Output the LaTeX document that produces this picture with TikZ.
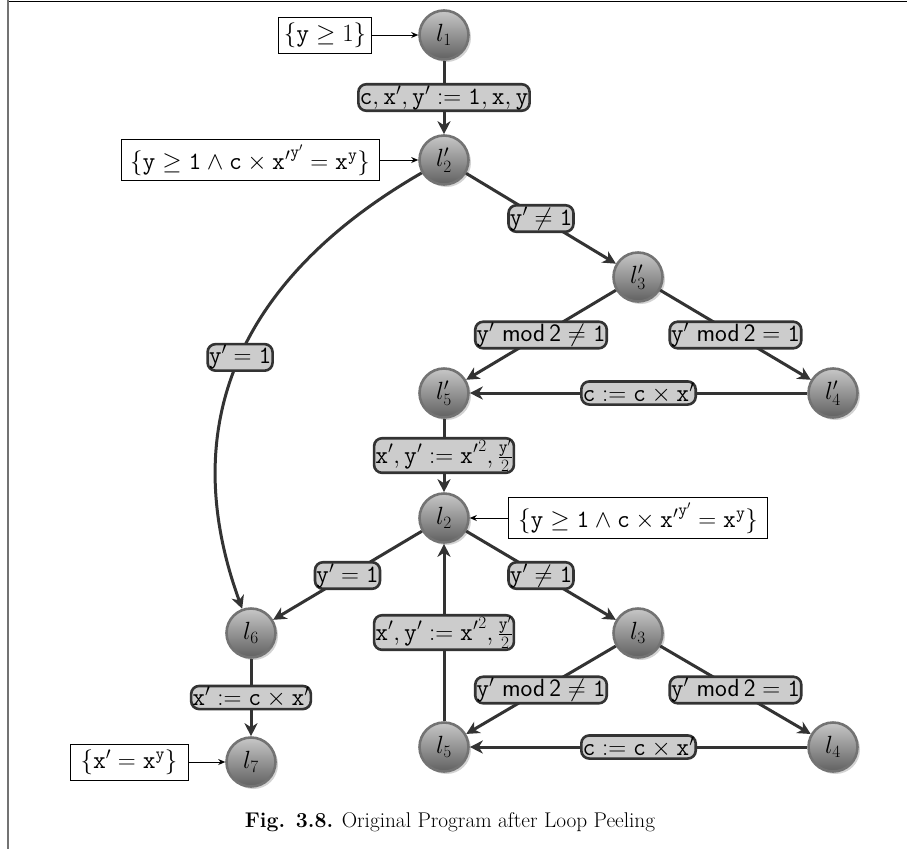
\documentclass[tikz,border=0pt]{standalone}
\usetikzlibrary{arrows.meta,shadows}
% program variables are set in typewriter type
\newcommand{\pvx}{\mathtt{x}}
\newcommand{\pvy}{\mathtt{y}}
\newcommand{\pvc}{\mathtt{c}}
\newcommand{\pvone}{\mathtt{1}}
\begin{document}
\begin{tikzpicture}[x=1pt,y=-1pt,
  every node/.style={font=\fontsize{25}{30}\selectfont},
  loc/.style={circle, minimum size=49pt, inner sep=0pt, draw=black!55,
    line width=2.6pt, top color=black!22, bottom color=black!62,
    drop shadow={opacity=0.35, shadow xshift=2.5pt, shadow yshift=-2.5pt}},
  guard/.style={rounded corners=8pt, fill=black!20, draw=black!80,
    line width=2.6pt, inner sep=1.2pt, text=black},
  flow/.style={draw=black!80, line width=3pt,
    -{Stealth[length=13pt,width=13pt,inset=4pt]}},
  inv/.style={draw=black, line width=0.8pt, fill=white, inner sep=5pt,
    minimum height=36pt},
  invarrow/.style={draw=black, line width=0.9pt,
    -{Stealth[length=7pt,width=6pt]}}
]
\useasboundingbox (0,0) rectangle (907,849);

% page edges
\draw[black, line width=1.5pt] (7,1.5) -- (907,1.5);
\draw[black!55, line width=2pt] (7.5,0) -- (7.5,849);

% locations
\node[loc] (l1)  at (444,35)  {$l_1$};
\node[loc] (l2p) at (444,160) {$l'_2$};
\node[loc] (l3p) at (638,277) {$l'_3$};
\node[loc] (l4p) at (833,393) {$l'_4$};
\node[loc] (l5p) at (444,393) {$l'_5$};
\node[loc] (l2)  at (444,518) {$l_2$};
\node[loc] (l3)  at (638,633) {$l_3$};
\node[loc] (l4)  at (833,747) {$l_4$};
\node[loc] (l5)  at (444,747) {$l_5$};
\node[loc] (l6)  at (251,633) {$l_6$};
\node[loc] (l7)  at (251,762) {$l_7$};

% invariants
\node[inv] (a1)  at (325,35)  {$\{\pvy \geq 1\}$};
\node[inv, minimum width=258pt] (a2p) at (250,160) {$\{\pvy \geq \pvone \wedge \pvc \times {\pvx'}^{\pvy'} = \pvx^{\pvy}\}$};
\node[inv, minimum width=259pt] (a2)  at (638,518) {$\{\pvy \geq \pvone \wedge \pvc \times {\pvx'}^{\pvy'} = \pvx^{\pvy}\}$};
\node[inv, minimum width=118pt] (a7)  at (129,762) {$\{\pvx' = \pvx^{\pvy}\}$};

\draw[invarrow] (a1) -- (l1);
\draw[invarrow] (a2p) -- (l2p);
\draw[invarrow] (a2) -- (l2);
\draw[invarrow] (a7) -- (l7);

% transitions
\draw[flow] (l1) -- node[guard] {$\pvc, \pvx', \pvy' := \pvone, \pvx, \pvy$} (l2p);
\draw[flow] (l2p) -- node[guard] {$\pvy' \neq \pvone$} (l3p);
\draw[flow] (l2p) to[out=210, in=110, looseness=1.1]
  node[guard] {$\pvy' = \pvone$} (l6);
\draw[flow] (l3p) -- node[guard] {$\pvy'\ \textsf{mod}\,\textsf{2} \neq \pvone$} (l5p);
\draw[flow] (l3p) -- node[guard] {$\pvy'\ \textsf{mod}\,\textsf{2} = \pvone$} (l4p);
\draw[flow] (l4p) -- node[guard] {$\pvc := \pvc \times \pvx'$} (l5p);
\draw[flow] (l5p) -- node[guard] {$\pvx', \pvy' := {\pvx'}^{2}, \frac{\pvy'}{2}$} (l2);

\draw[flow] (l2) -- node[guard] {$\pvy' = \pvone$} (l6);
\draw[flow] (l2) -- node[guard] {$\pvy' \neq \pvone$} (l3);
\draw[flow] (l3) -- node[guard] {$\pvy'\ \textsf{mod}\,\textsf{2} \neq \pvone$} (l5);
\draw[flow] (l3) -- node[guard] {$\pvy'\ \textsf{mod}\,\textsf{2} = \pvone$} (l4);
\draw[flow] (l4) -- node[guard] {$\pvc := \pvc \times \pvx'$} (l5);
\draw[flow] (l5) -- node[guard] {$\pvx', \pvy' := {\pvx'}^{2}, \frac{\pvy'}{2}$} (l2);
\draw[flow] (l6) -- node[guard] {$\pvx' := \pvc \times \pvx'$} (l7);

% caption
\node[font=\fontsize{21.3}{25}\selectfont] (cap) at (450,822)
  {\textbf{Fig. 3.8.} Original Program after Loop Peeling};
\end{tikzpicture}
\end{document}
